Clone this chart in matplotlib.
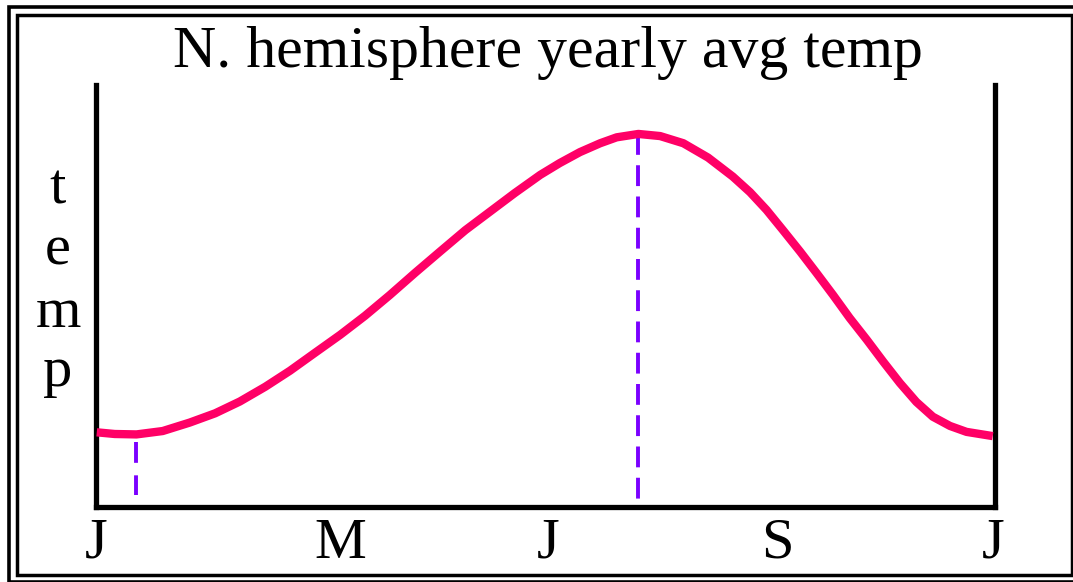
import matplotlib
matplotlib.use("Agg")
import matplotlib.pyplot as plt
from matplotlib.patches import Rectangle

plt.rcParams['font.family'] = ['Liberation Serif', 'DejaVu Serif']
plt.rcParams['lines.scale_dashes'] = False

# ---- data ----
title = "N. hemisphere yearly avg temp"
ylabel_letters = ["t", "e", "m", "p"]
tick_labels = ["J", "M", "J", "S", "J"]
tick_months = [0.0, 3.26, 6.03, 9.10, 11.97]

months = [0.01, 0.25, 0.54, 0.89, 1.25, 1.59, 1.92, 2.26, 2.59, 2.92, 3.26,
          3.59, 3.92, 4.26, 4.59, 4.93, 5.26, 5.59, 5.93, 6.19, 6.46, 6.73,
          6.95, 7.24, 7.53, 7.84, 8.17, 8.50, 8.73, 8.95, 9.17, 9.40, 9.62,
          9.84, 10.06, 10.29, 10.51, 10.73, 10.95, 11.17, 11.40, 11.62, 11.97]
temps = [0.177, 0.173, 0.172, 0.180, 0.200, 0.222, 0.250, 0.285, 0.323, 0.365,
         0.408, 0.453, 0.502, 0.555, 0.605, 0.656, 0.700, 0.744, 0.787, 0.815,
         0.841, 0.862, 0.876, 0.884, 0.879, 0.862, 0.828, 0.783, 0.746, 0.704,
         0.656, 0.605, 0.554, 0.502, 0.448, 0.396, 0.344, 0.294, 0.249, 0.214,
         0.192, 0.178, 0.168]

min_month = 0.54
min_marker = [0.154, 0.028]
peak_month = 7.24
peak_marker = [0.884, 0.0]

CURVE = "#ff0066"
DASH = "#7a00ff"

W, H = 1073, 582
fig = plt.figure(figsize=(W / 100, H / 100), dpi=100)
fig.patch.set_facecolor("white")

def fx(px):
    return px / W

def fy(py):
    return 1 - py / H

# double frame
fig.add_artist(Rectangle((fx(8.5), fy(581.5)), fx(1082) - fx(8.5), fy(6.5) - fy(581.5),
                         transform=fig.transFigure, fill=False, lw=2.6, ec="black"))
fig.add_artist(Rectangle((fx(16.5), fy(575)), fx(1071.5) - fx(16.5), fy(15) - fy(575),
                         transform=fig.transFigure, fill=False, lw=2.5, ec="black"))

ax_l, ax_r, ax_t, ax_b = 96, 995, 85, 507
ax = fig.add_axes([fx(ax_l), fy(ax_b), fx(ax_r) - fx(ax_l), fy(ax_t) - fy(ax_b)])
ax.set_xlim(0, 12)
ax.set_ylim(0, 1)
ax.patch.set_alpha(0)
ax.spines['top'].set_visible(False)
for s in ['left', 'right', 'bottom']:
    ax.spines[s].set_linewidth(3.8)
    ax.spines[s].set_capstyle('projecting')
ax.set_xticks([])
ax.set_yticks([])

ax.plot(months, temps, color=CURVE, lw=6, solid_capstyle='butt',
        solid_joinstyle='round', clip_on=False, zorder=3)
ax.plot([peak_month, peak_month], peak_marker, color=DASH, lw=2.8,
        dashes=(15, 7.5), dash_capstyle='butt', zorder=2)
ax.plot([min_month, min_month], min_marker, color=DASH, lw=2.8,
        dashes=(15, 9.0), dash_capstyle='butt', zorder=2)

# tick labels
for m, lab in zip(tick_months, tick_labels):
    ax.text(m, (ax_b - 558) / (ax_b - ax_t), lab, transform=ax.get_xaxis_transform(),
            ha='center', va='baseline', fontsize=42, color='black', clip_on=False)

# vertical stacked y label
for letter, base in zip(ylabel_letters, [203, 265, 327, 386]):
    fig.text(fx(58), fy(base), letter, ha='center', va='baseline', fontsize=42, color='black')

fig.text(fx(548), fy(67), title, ha='center', va='baseline', fontsize=43, color='black')

fig.savefig("out.png", dpi=100, facecolor="white")
